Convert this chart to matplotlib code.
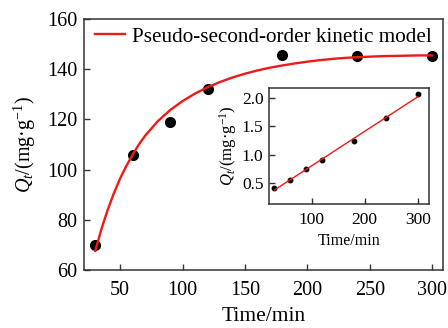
import matplotlib
matplotlib.use("Agg")
import matplotlib.pyplot as plt

plt.rcParams['font.family'] = ['Liberation Serif', 'DejaVu Serif']
plt.rcParams['mathtext.fontset'] = 'custom'
plt.rcParams['mathtext.rm'] = 'Liberation Serif'
plt.rcParams['mathtext.it'] = 'Liberation Serif:italic'

# Measured data (main)
time = [30, 60, 90, 120, 180, 240, 300]
qt = [70.0, 105.7, 119.0, 132.1, 145.7, 145.3, 145.3]

# Model curve
curve_t = [30, 35, 40, 45, 50, 55, 60, 65, 70, 80, 90, 100, 110, 120, 130, 140, 150, 160, 170,
           180, 190, 200, 210, 220, 230, 240, 250, 260, 270, 280, 290, 300]
curve_q = [67.6, 76.3, 84.0, 90.6, 96.5, 101.5, 106.0, 110.0, 113.5, 119.2, 123.7, 127.3, 130.3, 132.8,
           134.9, 136.7, 138.2, 139.5, 140.6, 141.5, 142.3, 143.0, 143.6, 144.1,
           144.5, 144.8, 145.0, 145.2, 145.3, 145.4, 145.5, 145.5]

# Inset data
inset_t = [30, 60, 90, 120, 180, 240, 300]
inset_v = [0.42, 0.56, 0.75, 0.905, 1.235, 1.65, 2.065]
inset_line_t = [30, 300]
inset_line_v = [0.375, 2.02]

xticks_main = [50, 100, 150, 200, 250, 300]
yticks_main = [60, 80, 100, 120, 140, 160]
xticks_inset = [100, 200, 300]
yticks_inset = [0.5, 1.0, 1.5, 2.0]

spine_col = '#333333'
red = '#f01818'

fig = plt.figure(figsize=(4.48, 3.28), dpi=100)
ax = fig.add_axes([0.1875, 0.177, 0.802, 0.765])
ax.plot(curve_t, curve_q, color=red, lw=1.7, label='Pseudo-second-order kinetic model', zorder=3)
ax.plot(time, qt, 'o', color='black', ms=7, zorder=2)
ax.set_xlim(21, 309)
ax.set_ylim(60, 160)
ax.set_xticks(xticks_main)
ax.set_yticks(yticks_main)
ax.tick_params(direction='in', length=4.5, width=1, labelsize=14.5, color=spine_col)
ax.tick_params(axis='x', pad=8)
ax.tick_params(axis='y', pad=5)
for s in ax.spines.values():
    s.set_linewidth(1.1)
    s.set_color(spine_col)
ax.set_xlabel('Time/min', fontsize=15.5, labelpad=5)
ax.set_ylabel(r'$Q_t$/(mg·g$^{-1}$)', fontsize=14.5, labelpad=6)
leg = ax.legend(loc='upper left', frameon=False, fontsize=15.2, handlelength=1.45,
                handletextpad=0.3, borderaxespad=0.1, bbox_to_anchor=(0.0, 1.01))

ins = fig.add_axes([0.6004, 0.378, 0.3561, 0.353])
ins.plot(inset_line_t, inset_line_v, color=red, lw=1.0, zorder=3)
ins.plot(inset_t, inset_v, 'o', color='black', ms=3.2, zorder=2)
ins.set_xlim(20, 320)
ins.set_ylim(0.13, 2.17)
ins.set_xticks(xticks_inset)
ins.set_yticks(yticks_inset)
ins.tick_params(direction='in', length=4, width=1, labelsize=12.5, color=spine_col)
ins.tick_params(axis='x', pad=6)
ins.tick_params(axis='y', pad=4)
for s in ins.spines.values():
    s.set_linewidth(1.1)
    s.set_color(spine_col)
ins.set_xlabel('Time/min', fontsize=11.5, labelpad=3)
ins.set_ylabel(r'$Q_t$/(mg·g$^{-1}$)', fontsize=12, labelpad=2)

fig.savefig('out.png', dpi=100)
